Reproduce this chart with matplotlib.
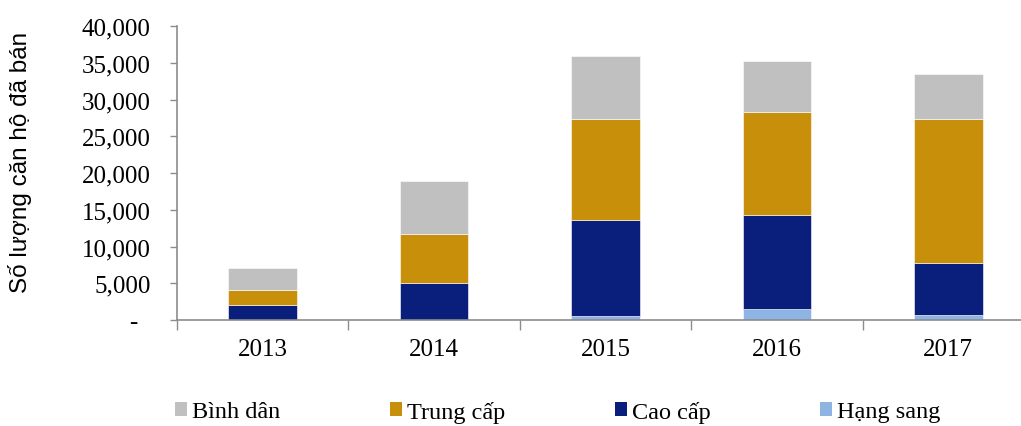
import matplotlib
matplotlib.use("Agg")
import matplotlib.pyplot as plt
from matplotlib.patches import Patch
from matplotlib.ticker import FuncFormatter
import numpy as np

years = ["2013", "2014", "2015", "2016", "2017"]
hang_sang = [50, 50, 550, 1500, 650]
cao_cap = [1950, 5050, 13050, 12800, 7150]
trung_cap = [2050, 6600, 13750, 14000, 19550]
binh_dan = [3000, 7200, 8550, 6900, 6150]

series = [
    ("Hạng sang", hang_sang, "#8DB4E2"),
    ("Cao cấp", cao_cap, "#0A1E7C"),
    ("Trung cấp", trung_cap, "#C8900A"),
    ("Bình dân", binh_dan, "#C0C0C0"),
]

W, H = 1021, 427
fig = plt.figure(figsize=(W / 100, H / 100), dpi=100)
ax = fig.add_axes([177 / W, (H - 321) / H, (1034 - 177) / W, 294 / H])

x = np.arange(len(years))
bottom = np.zeros(len(years))
colors = {}
for name, vals, color in series:
    v = np.array(vals, dtype=float)
    ax.bar(x, v, 0.4, bottom=bottom, color=color, edgecolor="white", linewidth=0.4)
    colors[name] = color
    bottom += v

ax.set_xlim(-0.5, len(years) - 0.5)
ax.set_ylim(0, 40000)
ax.set_yticks(np.arange(0, 40001, 5000))
ax.yaxis.set_major_formatter(FuncFormatter(lambda v, p: "-  " if v == 0 else f"{int(v):,}"))
ax.set_xticks(x)
ax.set_xticklabels(years)
ax.set_xticks(np.arange(-0.5, len(years), 1), minor=True)

serif = "Liberation Serif"
for lab in ax.get_xticklabels() + ax.get_yticklabels():
    lab.set_fontfamily(serif)
    lab.set_fontsize(18)

ax.tick_params(axis="x", which="major", length=0, pad=13)
ax.tick_params(axis="x", which="minor", length=7, color="#8C8C8C", width=1)
ax.tick_params(axis="y", which="major", length=5, color="#8C8C8C", width=1, pad=14)

for s in ["top", "right"]:
    ax.spines[s].set_visible(False)
for s in ["left", "bottom"]:
    ax.spines[s].set_color("#8C8C8C")
    ax.spines[s].set_linewidth(1.2)

fig.text(20 / W, 1 - 162 / H, "Số lượng căn hộ đã bán", rotation=90, ha="center", va="center",
         fontsize=17.5, fontfamily="Liberation Sans")

legend_order = ["Bình dân", "Trung cấp", "Cao cấp", "Hạng sang"]
legend_x = [175, 390, 615, 820]
for name, lx in zip(legend_order, legend_x):
    fig.legend([Patch(facecolor=colors[name], edgecolor="none")], [name], loc="center left",
               bbox_to_anchor=(lx / W, 1 - 413 / H), frameon=False,
               prop={"family": serif, "size": 17.5},
               handlelength=0.5, handleheight=0.5, handletextpad=0.2,
               borderaxespad=0, borderpad=0)

fig.savefig("out.png", dpi=100)
